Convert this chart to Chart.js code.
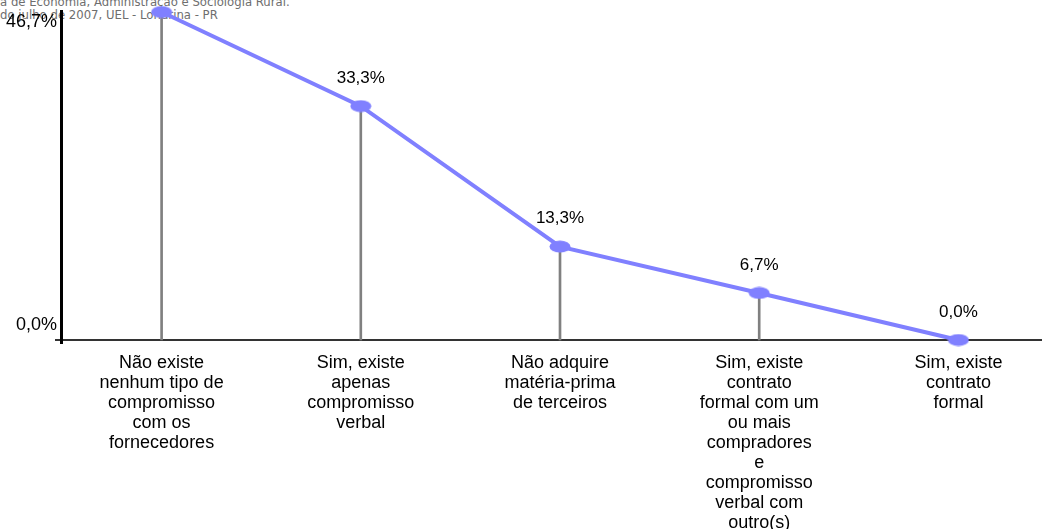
<!DOCTYPE html>
<html>
<head>
<meta charset="utf-8">
<script src="https://cdn.jsdelivr.net/npm/chart.js@4.4.1/dist/chart.umd.min.js"></script>
<style>
  html, body { margin: 0; padding: 0; background: #fff; overflow: hidden; }
  #wrap { position: relative; width: 1068px; height: 529px; }
  #note { position: absolute; left: 0; top: -4.5px; font-family: 'DejaVu Sans', sans-serif; font-size: 11.7px; line-height: 13px; color: #6e6e6e; white-space: nowrap; z-index: 0; }
  #chartBox { position: absolute; left: 0; top: 0; width: 1068px; height: 529px; z-index: 1; }
</style>
</head>
<body>
<div id="wrap">
  <div id="note">a de Economia, Administração e Sociologia Rural.<br>do julho de 2007, UEL - Londrina - PR</div>
  <div id="chartBox"><canvas id="c"></canvas></div>
</div>
<script>
const categories = [
  ["Não existe", "nenhum tipo de", "compromisso", "com os", "fornecedores"],
  ["Sim, existe", "apenas", "compromisso", "verbal"],
  ["Não adquire", "matéria-prima", "de terceiros"],
  ["Sim, existe", "contrato", "formal com um", "ou mais", "compradores", "e", "compromisso", "verbal com", "outro(s)"],
  ["Sim, existe", "contrato", "formal"]
];
const values = [46.7, 33.3, 13.3, 6.7, 0.0];
const valueLabels = ["46,7%", "33,3%", "13,3%", "6,7%", "0,0%"];
const yTickValues = [46.7, 0];
const yTickLabels = ["46,7%", "0,0%"];

const FONT = "'Liberation Sans', Arial, sans-serif";

// ellipse marker
const marker = document.createElement('canvas');
marker.width = 22; marker.height = 13;
(function () {
  const m = marker.getContext('2d');
  m.fillStyle = '#8080ff';
  m.beginPath();
  m.ellipse(11, 6.5, 10.5, 6, 0, 0, Math.PI * 2);
  m.fill();
})();

const decor = {
  id: 'decor',
  beforeDatasetsDraw(chart) {
    const ctx = chart.ctx, a = chart.chartArea, y = chart.scales.y;
    ctx.save();
    // x axis line
    ctx.strokeStyle = '#333333';
    ctx.lineWidth = 2;
    ctx.beginPath();
    ctx.moveTo(a.left - 7, y.getPixelForValue(0));
    ctx.lineTo(chart.width, y.getPixelForValue(0));
    ctx.stroke();
    // y axis line
    ctx.strokeStyle = '#000000';
    ctx.lineWidth = 3;
    ctx.beginPath();
    ctx.moveTo(a.left - 0.5, y.getPixelForValue(yTickValues[0]) - 2);
    ctx.lineTo(a.left - 0.5, y.getPixelForValue(0) + 4);
    ctx.stroke();
    // y tick labels
    ctx.fillStyle = '#000';
    ctx.font = '18px ' + FONT;
    ctx.textAlign = 'right';
    ctx.textBaseline = 'middle';
    ctx.fillText(yTickLabels[0], a.left - 5, y.getPixelForValue(yTickValues[0]) + 10);
    ctx.fillText(yTickLabels[1], a.left - 5, y.getPixelForValue(yTickValues[1]) - 15);
    ctx.restore();
  },
  afterDatasetsDraw(chart) {
    const ctx = chart.ctx;
    const meta = chart.getDatasetMeta(0);
    ctx.save();
    ctx.fillStyle = '#000';
    ctx.font = '17px ' + FONT;
    ctx.textAlign = 'center';
    ctx.textBaseline = 'middle';
    meta.data.forEach((pt, i) => {
      ctx.fillText(valueLabels[i], pt.x, pt.y - 28);
    });
    ctx.restore();
  }
};

new Chart(document.getElementById('c'), {
  data: {
    labels: categories,
    datasets: [
      {
        type: 'line',
        data: values,
        borderColor: '#8080ff',
        borderWidth: 4,
        pointStyle: marker,
        pointRadius: 6,
        pointHoverRadius: 6,
        tension: 0,
        clip: false,
        order: 0
      },
      {
        type: 'bar',
        data: values,
        backgroundColor: '#808080',
        barThickness: 2,
        clip: false,
        order: 1
      }
    ]
  },
  options: {
    responsive: true,
    maintainAspectRatio: false,
    animation: false,
    events: [],
    layout: { padding: { left: 62, right: 4, top: 12, bottom: 0 } },
    plugins: { legend: { display: false }, tooltip: { enabled: false } },
    scales: {
      x: {
        type: 'category',
        offset: true,
        grid: { display: false },
        border: { display: false },
        ticks: {
          color: '#000',
          maxRotation: 0,
          autoSkip: false,
          padding: 5,
          font: { family: FONT, size: 18, lineHeight: '20px' }
        },
        afterFit(s) { s.height = 189; }
      },
      y: {
        display: false,
        min: 0,
        max: 46.7
      }
    }
  },
  plugins: [decor]
});
</script>
</body>
</html>
